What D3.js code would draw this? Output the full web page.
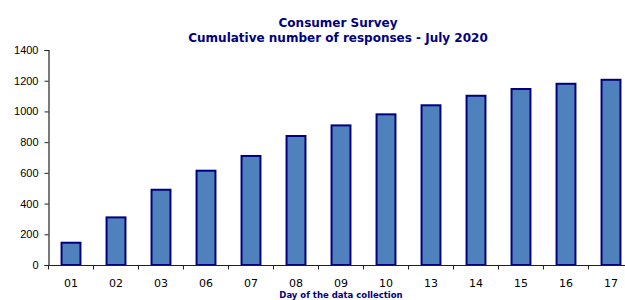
<!DOCTYPE html>
<html>
<head>
<meta charset="utf-8">
<script src="https://cdn.jsdelivr.net/npm/d3@7"></script>
<style>
  body { margin: 0; background: #fff; }
  svg { display: block; font-family: "DejaVu Sans", sans-serif; }
</style>
</head>
<body>
<div id="chart"></div>
<script>
/* data */
const days = ["01", "02", "03", "06", "07", "08", "09", "10", "13", "14", "15", "16", "17"];
const responses = [145, 310, 490, 614, 710, 840, 909, 981, 1040, 1102, 1146, 1180, 1206];
const yTicks = [0, 200, 400, 600, 800, 1000, 1200, 1400];

const titleLines = ["Consumer Survey", "Cumulative number of responses - July 2020"];
const xTitle = "Day of the data collection";

const navy = "#000080";

const svg = d3.select("#chart")
  .append("svg")
  .attr("width", 625)
  .attr("height", 300);

/* scales: plot area runs past the right edge like the original */
const x = d3.scaleBand().domain(days).range([48.5, 633.5]).paddingInner(0.58).paddingOuter(0.29);
const y = d3.scaleLinear().domain([0, 1400]).range([265, 50]);

/* bars */
svg.append("g")
  .selectAll("rect")
  .data(days)
  .join("rect")
  .attr("x", d => x(d))
  .attr("y", (d, i) => y(responses[i]))
  .attr("width", x.bandwidth())
  .attr("height", (d, i) => y(0) - y(responses[i]))
  .style("fill", "#4F81BD")
  .style("stroke", navy)
  .style("stroke-width", 2);

/* y axis */
const yAxis = svg.append("g")
  .attr("transform", "translate(48.5,0)")
  .call(d3.axisLeft(y).tickValues(yTicks).tickSize(4).tickPadding(6).tickFormat(d3.format("d")));
yAxis.select(".domain").attr("stroke", "#222").attr("stroke-width", 1.2);
yAxis.selectAll(".tick line").attr("stroke", "#222");
yAxis.selectAll("text").style("font-size", "11px").attr("fill", "#000");

/* x axis: tick marks between categories */
const step = x.step();
const boundaries = d3.range(days.length + 1).map(i => 48.5 + i * step);
const xAxis = svg.append("g").attr("transform", "translate(0,265.5)");
xAxis.append("line")
  .attr("x1", 48.5).attr("x2", 633.5)
  .attr("stroke", "#222").attr("stroke-width", 1.2);
xAxis.selectAll("line.tk")
  .data(boundaries)
  .join("line")
  .attr("class", "tk")
  .attr("x1", d => d).attr("x2", d => d)
  .attr("y1", 0).attr("y2", 4)
  .attr("stroke", "#222");
xAxis.selectAll("text")
  .data(days)
  .join("text")
  .attr("x", d => x(d) + x.bandwidth() / 2)
  .attr("y", 21)
  .attr("text-anchor", "middle")
  .style("font-size", "11px")
  .text(d => d);

/* titles */
svg.append("text")
  .attr("text-anchor", "middle")
  .attr("fill", navy)
  .style("font-weight", "bold")
  .style("font-size", "12px")
  .selectAll("tspan")
  .data(titleLines)
  .join("tspan")
  .attr("x", 338)
  .attr("y", (d, i) => 27 + i * 15)
  .text(d => d);

svg.append("text")
  .attr("x", 341)
  .attr("y", 298)
  .attr("text-anchor", "middle")
  .attr("fill", navy)
  .style("font-weight", "bold")
  .style("font-size", "8.5px")
  .text(xTitle);
</script>
</body>
</html>
